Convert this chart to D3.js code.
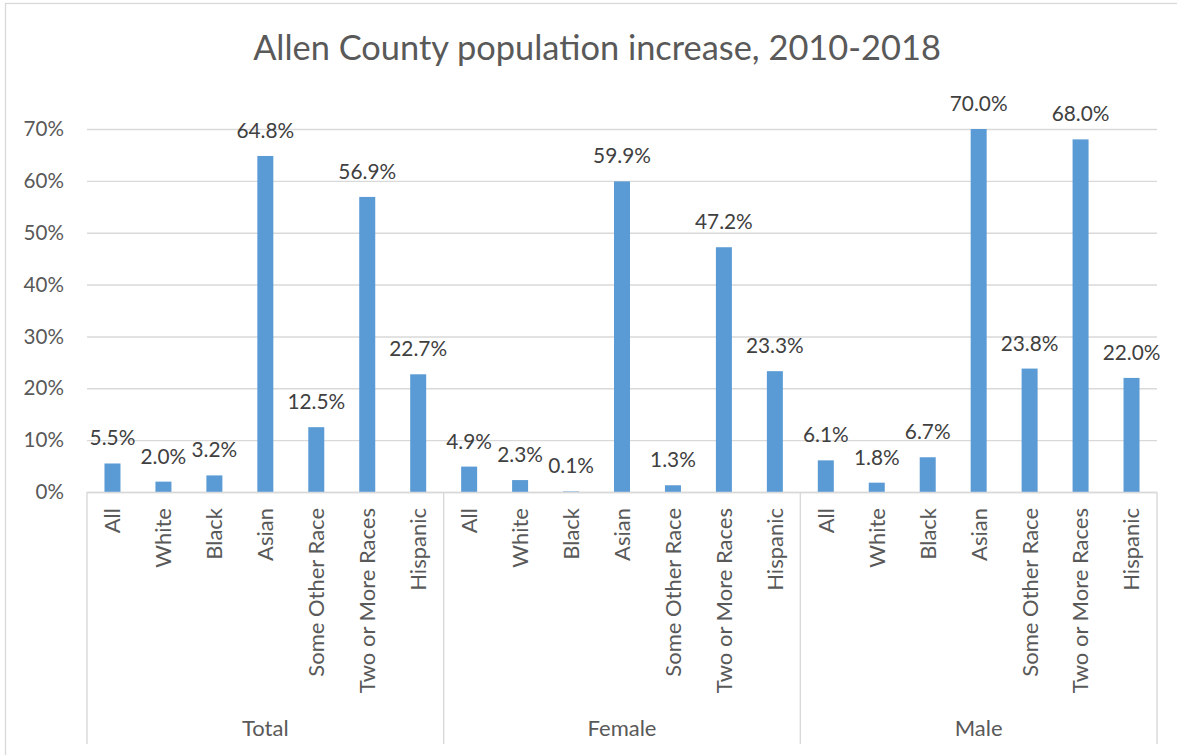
<!DOCTYPE html>
<html>
<head>
<meta charset="utf-8">
<script src="https://cdn.jsdelivr.net/npm/d3@7"></script>
<style>
  html, body { margin: 0; padding: 0; background: #fff; }
  svg { display: block; font-family: Lato, "Open Sans", sans-serif; }
</style>
</head>
<body>
<svg id="chart" width="1177" height="755"></svg>
<script>
// Population increase by group and race, 2010-2018
const groups = ["Total", "Female", "Male"];
const categories = ["All", "White", "Black", "Asian", "Some Other Race", "Two or More Races", "Hispanic"];
const totalValues  = [5.5, 2.0, 3.2, 64.8, 12.5, 56.9, 22.7];
const femaleValues = [4.9, 2.3, 0.1, 59.9, 1.3, 47.2, 23.3];
const maleValues   = [6.1, 1.8, 6.7, 70.0, 23.8, 68.0, 22.0];
const yTicks = [0, 10, 20, 30, 40, 50, 60, 70];

const seriesByGroup = { Total: totalValues, Female: femaleValues, Male: maleValues };
const rows = groups.flatMap(g => categories.map((c, i) => ({ group: g, cat: c, value: seriesByGroup[g][i] })));

const svg = d3.select("#chart");
const plot = { left: 87, right: 1157, top: 129, bottom: 492 };
const gridColor = "#d9d9d9";
const textColor = "#595959";

// chart frame
svg.append("rect")
  .attr("x", 5.5).attr("y", 3.5)
  .attr("width", 1190).attr("height", 770)
  .attr("fill", "none").attr("stroke", gridColor).attr("stroke-width", 1.3);

// title
svg.append("text")
  .attr("x", 597).attr("y", 60)
  .attr("text-anchor", "middle")
  .attr("fill", textColor)
  .attr("font-size", 34.4)
  .text("Allen County population increase, 2010-2018");

const x0 = d3.scaleBand().domain(groups).range([plot.left, plot.right]).paddingInner(0).paddingOuter(0);
const x1 = d3.scaleBand().domain(categories).range([0, x0.bandwidth()]).paddingInner(0.686).paddingOuter(0.343);
const y = d3.scaleLinear().domain([0, 70]).range([plot.bottom, plot.top]);

// gridlines + y labels
const yAxis = d3.axisLeft(y).tickValues(yTicks).tickSize(-(plot.right - plot.left)).tickFormat(d => d + "%").tickPadding(23);
const yg = svg.append("g").attr("transform", `translate(${plot.left},0)`).call(yAxis);
yg.select(".domain").remove();
yg.selectAll(".tick line").attr("stroke", gridColor).attr("stroke-width", 1.4);
yg.selectAll(".tick text").attr("fill", textColor).attr("font-size", 20.6).attr("font-family", "Lato, sans-serif");

// bars
svg.append("g").selectAll("rect")
  .data(rows)
  .join("rect")
  .attr("x", d => x0(d.group) + x1(d.cat))
  .attr("width", x1.bandwidth())
  .attr("y", d => y(d.value))
  .attr("height", d => y(0) - y(d.value))
  .attr("fill", "#5b9bd5");

// value labels
svg.append("g").selectAll("text")
  .data(rows)
  .join("text")
  .attr("x", d => x0(d.group) + x1(d.cat) + x1.bandwidth() / 2)
  .attr("y", d => y(d.value) - 18)
  .attr("text-anchor", "middle")
  .attr("fill", "#404040")
  .attr("font-size", 20.8)
  .text(d => d.value.toFixed(1) + "%");

// category axis baseline
svg.append("line")
  .attr("x1", plot.left).attr("x2", plot.right)
  .attr("y1", plot.bottom + 0.5).attr("y2", plot.bottom + 0.5)
  .attr("stroke", gridColor).attr("stroke-width", 1.4);

// group separators
const seps = groups.map(g => x0(g)).concat([plot.right]);
svg.append("g").selectAll("line")
  .data(seps)
  .join("line")
  .attr("x1", d => d).attr("x2", d => d)
  .attr("y1", plot.bottom).attr("y2", 744)
  .attr("stroke", gridColor).attr("stroke-width", 1.4);

// category labels (rotated)
svg.append("g").selectAll("text")
  .data(rows)
  .join("text")
  .attr("transform", d => `translate(${x0(d.group) + x1(d.cat) + x1.bandwidth() / 2},508) rotate(-90)`)
  .attr("dy", "0.36em")
  .attr("text-anchor", "end")
  .attr("fill", textColor)
  .attr("font-size", 22)
  .text(d => d.cat);

// group labels
svg.append("g").selectAll("text")
  .data(groups)
  .join("text")
  .attr("x", d => x0(d) + x0.bandwidth() / 2)
  .attr("y", 736)
  .attr("text-anchor", "middle")
  .attr("fill", textColor)
  .attr("font-size", 22)
  .text(d => d);
</script>
</body>
</html>
